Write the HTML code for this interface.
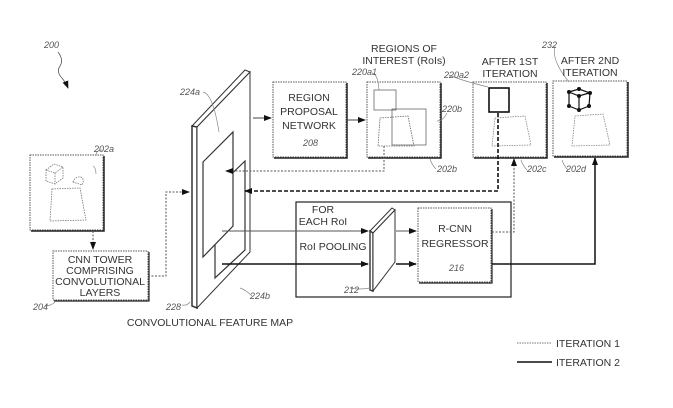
<!DOCTYPE html>
<html><head><style>
html,body{margin:0;padding:0;background:#fff}
svg{display:block}
text{font-family:"Liberation Sans",sans-serif;fill:#333}
.t{font-size:10.5px;text-anchor:middle}
.l{font-size:9px;font-style:italic;fill:#555}
</style></head><body>
<svg width="673" height="408" viewBox="0 0 673 408" xmlns="http://www.w3.org/2000/svg">
<defs>
<marker id="a" markerWidth="8" markerHeight="8" refX="7" refY="4" orient="auto" markerUnits="userSpaceOnUse"><path d="M0,1 L8,4 L0,7z" fill="#111"/></marker>
</defs>
<g fill="none" stroke="#333">
<rect x="30" y="155" width="73" height="75" stroke-dasharray="1.5,1" stroke="#555"/>
<path d="M31,231 H104 V156" stroke="#222" stroke-width="1.5"/>
<g stroke="#777" stroke-width="0.8" stroke-dasharray="1.5,1">
<path d="M46,170 l8,-6 l9,3 l0,11 l-8,6 l-9,-3z M46,170 l9,3 l8,-6 M55,173 v11"/>
<path d="M52,189 L80,188 L86,220 L50,221z"/><path d="M73,182 q2,-6 8,-5 q4,3 1,8z"/>
</g>
<rect x="53" y="251" width="95" height="49" stroke-dasharray="1.5,1" stroke="#555"/>
<path d="M54,301 H149 V252" stroke="#222" stroke-width="1.2"/>
<path d="M93,231 V249" stroke-dasharray="2,1.5" stroke="#555" marker-end="url(#a)"/>
<path d="M148,276 H166 V192 H189" stroke-dasharray="2,1.5" stroke="#555" marker-end="url(#a)"/>
<polygon points="192,126 245,70 250,72 197,127" fill="#fff" stroke="#333"/>
<polygon points="192,126 197,127 197,308 192,306" fill="#fff" stroke="#333" stroke-width="1.5"/>
<polygon points="197,127 250,72 250,252 197,308" fill="#fff" stroke="#333"/>
<polygon points="215,190 245,161 245,250 215,278" fill="#fff" stroke="#333" stroke-width="1.2"/>
<polygon points="203,162 233,132 233,226 203,257" fill="#fff" stroke="#333" stroke-width="1.2"/>
<rect x="273" y="82" width="73" height="75" stroke-dasharray="1.5,1" stroke="#555"/>
<path d="M274,158 H347 V83" stroke="#222" stroke-width="1.5"/>
<path d="M253,118 H271" stroke="#444" marker-end="url(#a)"/>
<path d="M347,120 H365" stroke="#444" marker-end="url(#a)"/>
<rect x="367" y="82" width="73" height="75" stroke-dasharray="1.5,1" stroke="#555"/>
<path d="M368,158 H441 V83" stroke="#222" stroke-width="1.5"/>
<g stroke="#666" stroke-width="0.8">
<rect x="374" y="90" width="22" height="20"/>
<rect x="392" y="109" width="34" height="36"/>
<path d="M380,118 L408,116 L414,146 L378,146z" stroke-dasharray="1.5,1"/>
</g>
<rect x="473" y="82" width="73" height="75" stroke-dasharray="1.5,1" stroke="#555"/>
<path d="M474,158 H547 V83" stroke="#222" stroke-width="1.5"/>
<rect x="489" y="88" width="20" height="24" stroke="#111" stroke-width="1.6"/>
<path d="M495,118 L525,116 L531,145 L492,146z" stroke="#888" stroke-width="0.8" stroke-dasharray="1.5,1"/>
<rect x="553" y="81" width="74" height="75" stroke-dasharray="1.5,1" stroke="#555"/>
<path d="M554,157 H628 V82" stroke="#222" stroke-width="1.5"/>
<g stroke="#111" stroke-width="1.2"><path d="M569,92 l10,-3 l11,4 l-1,13 l-10,4 l-10,-4z M569,92 l10,4 l10,-3 M579,96 v14"/></g>
<g fill="#111" stroke="none"><circle cx="569" cy="92" r="2"/><circle cx="579" cy="89" r="2"/><circle cx="590" cy="93" r="2"/><circle cx="589" cy="106" r="2"/><circle cx="579" cy="110" r="2"/><circle cx="569" cy="106" r="2"/><circle cx="579" cy="96" r="2"/></g>
<path d="M575,116 L603,114 L610,145 L572,146z" stroke="#888" stroke-width="0.8" stroke-dasharray="1.5,1"/>
<path d="M384,146 V171 H226" stroke="#555" stroke-dasharray="2,1.5" marker-end="url(#a)"/>
<path d="M498,113 V191 H245" stroke="#111" stroke-width="1.6" stroke-dasharray="4,2" marker-end="url(#a)"/>
<rect x="296" y="202" width="215" height="95" stroke="#222" stroke-width="1.2"/>
<path d="M222,231 H368" stroke="#555" marker-end="url(#a)"/>
<path d="M222,264 H368" stroke="#111" stroke-width="1.6" marker-end="url(#a)"/>
<polygon points="370,231 392,208 395,210 373,233" fill="#fff"/>
<polygon points="370,231 373,233 373,291 370,290" fill="#fff" stroke-width="1.4"/>
<polygon points="373,233 395,210 395,262 373,291" fill="#fff"/>
<path d="M396,231 H416" stroke="#555" marker-end="url(#a)"/>
<path d="M396,264 H416" stroke="#111" stroke-width="1.6" marker-end="url(#a)"/>
<rect x="418" y="208" width="73" height="74" stroke-dasharray="1.5,1" stroke="#555"/>
<path d="M419,283 H492 V209" stroke="#222" stroke-width="1.2"/>
<path d="M492,232 H514 V159" stroke="#555" stroke-dasharray="2,1.5" marker-end="url(#a)"/>
<path d="M492,264 H595 V158" stroke="#111" stroke-width="1.5" marker-end="url(#a)"/>
<path d="M517,343 H552" stroke="#777" stroke-dasharray="1.5,1"/>
<path d="M517,362 H552" stroke="#111" stroke-width="1.6"/>
<path d="M58,52 q6,8 2,14 q-4,6 2,12 q4,5 6,10" stroke="#555" stroke-width="0.8" marker-end="url(#a)"/>
<path d="M102,150 q-6,0 -6,6 M93,166 q3,2 3,8 M203,92 q10,2 16,40 M240,288 q6,2 12,8 M182,305 q5,1 8,-3 M45,306 q6,0 10,-4 M372,73 q6,1 7,17 M447,113 q-4,8 -10,8 M436,169 q-4,-4 -6,-10 M449,75 q14,6 39,12 M527,170 q-4,-4 -6,-10 M555,46 q-4,14 14,36 M568,170 q-4,-4 -6,-10 M350,288 q8,2 20,0" stroke="#888" stroke-width="0.7"/>
</g>
<text class="t" x="309" y="101">REGION</text>
<text class="t" x="309" y="115">PROPOSAL</text>
<text class="t" x="309" y="129">NETWORK</text>
<text class="l" x="303" y="146">208</text>
<text class="t" x="100" y="263">CNN TOWER</text>
<text class="t" x="100" y="274">COMPRISING</text>
<text class="t" x="100" y="285">CONVOLUTIONAL</text>
<text class="t" x="100" y="296">LAYERS</text>
<text class="t" x="210" y="326">CONVOLUTIONAL FEATURE MAP</text>
<text class="t" x="404" y="52">REGIONS OF</text>
<text class="t" x="404" y="64">INTEREST (RoIs)</text>
<text class="t" x="510" y="65">AFTER 1ST</text>
<text class="t" x="510" y="77">ITERATION</text>
<text class="t" x="590" y="64">AFTER 2ND</text>
<text class="t" x="590" y="76">ITERATION</text>
<text class="t" x="323" y="213">FOR</text>
<text class="t" x="323" y="225">EACH RoI</text>
<text class="t" x="333" y="250">RoI POOLING</text>
<text class="t" x="455" y="232">R-CNN</text>
<text class="t" x="455" y="247">REGRESSOR</text>
<text class="l" x="449" y="271">216</text>
<text x="556" y="347" style="font-size:10.5px">ITERATION 1</text>
<text x="556" y="366" style="font-size:10.5px">ITERATION 2</text>
<text class="l" x="44" y="48">200</text>
<text class="l" x="94" y="152">202a</text>
<text class="l" x="33" y="310">204</text>
<text class="l" x="166" y="310">228</text>
<text class="l" x="180" y="95">224a</text>
<text class="l" x="250" y="299">224b</text>
<text class="l" x="352" y="75">220a1</text>
<text class="l" x="442" y="112">220b</text>
<text class="l" x="437" y="172">202b</text>
<text class="l" x="444" y="78">220a2</text>
<text class="l" x="527" y="172">202c</text>
<text class="l" x="542" y="48">232</text>
<text class="l" x="566" y="172">202d</text>
<text class="l" x="344" y="293">212</text>
</svg>
</body></html>
